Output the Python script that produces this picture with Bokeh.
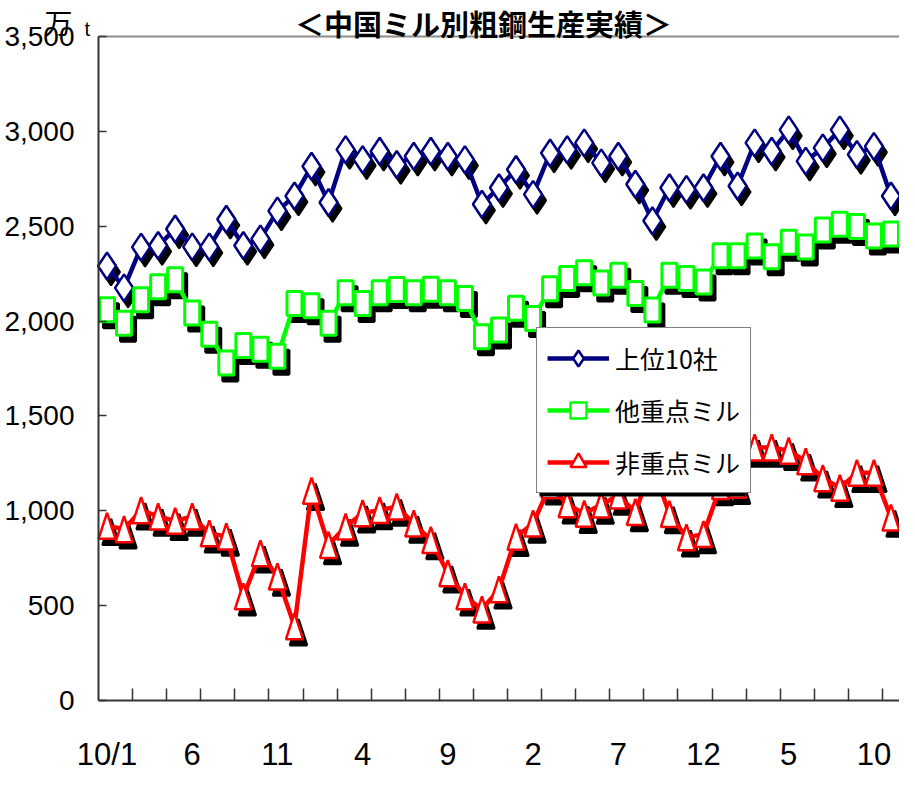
from bokeh.plotting import figure
from bokeh.models import (FixedTicker, NumeralTickFormatter, Label, Legend, LegendItem,
                          ColumnDataSource, Range1d, BoxAnnotation)
from bokeh.embed import file_html
from bokeh.resources import INLINE

# ---------------- data (万t, monthly from 2010/1) ----------------
tick_positions = [0, 5, 10, 15, 20, 25, 30, 35, 40, 45]
tick_labels = ["10/1", "6", "11", "4", "9", "2", "7", "12", "5", "10"]
series_names = ["上位10社", "他重点ミル", "非重点ミル"]

top10 = [2290, 2175, 2390, 2398, 2485, 2391, 2391, 2537, 2398, 2433,
         2581, 2659, 2816, 2625, 2904, 2851, 2895, 2825, 2869, 2895,
         2869, 2851, 2616, 2703, 2799, 2668, 2886, 2904, 2939, 2834,
         2869, 2721, 2529, 2703, 2694, 2703, 2869, 2712, 2939, 2895,
         3008, 2843, 2913, 3008, 2878, 2921, 2659]
other_key = [2060, 1988, 2112, 2181, 2218, 2043, 1931, 1779, 1871, 1852,
             1814, 2093, 2081, 1988, 2149, 2093, 2149, 2166, 2149, 2168,
             2149, 2119, 1918, 1953, 2067, 2014, 2171, 2224, 2255, 2201,
             2241, 2145, 2058, 2241, 2224, 2206, 2344, 2344, 2396, 2339,
             2415, 2391, 2480, 2511, 2498, 2449, 2459]
non_key = [921, 903, 1003, 970, 947, 970, 881, 865, 549, 776,
           654, 392, 1106, 820, 917, 987, 1004, 1022, 933, 846,
           671, 549, 480, 586, 863, 933, 1135, 1035, 985, 1033,
           1080, 994, 1240, 983, 860, 877, 1130, 1137, 1334, 1334,
           1317, 1261, 1172, 1121, 1200, 1200, 964]

# ---------------- geometry (figure pixels) ----------------
W, H = 899, 772
n = len(top10)
YMAX = 3500
X0 = 98            # x of the value axis (category -0.5)
YT = 36            # y of the 3,500 line
Y0 = 700           # y of the 0 line
pxx = (W - X0) / n
pxy = (Y0 - YT) / YMAX

def dx(fx):
    return -0.5 + (fx - X0) / pxx

def dy(fy):
    return (Y0 - fy) / pxy

xs = list(range(n))
SHX, SHY = 4 / pxx, 6 / pxy                # marker shadow offset

NUM_FONT = "'Liberation Sans Narrow', 'Arial Narrow', 'Liberation Sans', sans-serif"
CJK_FONT = "Noto Sans CJK JP"

# the frame covers the whole canvas; axes are pinned at category -0.5 and value 0
p = figure(width=W, height=H, output_backend="svg", toolbar_location=None,
           x_range=Range1d(dx(0), dx(W)), y_range=Range1d(dy(H), dy(0)),
           min_border_left=0, min_border_right=0, min_border_top=0,
           min_border_bottom=0)
p.outline_line_color = None
p.xgrid.visible = False
p.ygrid.visible = False
p.background_fill_color = "white"

p.xaxis.fixed_location = 0
p.xaxis.bounds = (-0.5, n - 0.5)
p.xaxis.ticker = FixedTicker(ticks=tick_positions,
                             minor_ticks=[i + 1.5 for i in range(0, n - 1, 2)])
p.xaxis.major_label_overrides = {t: l for t, l in zip(tick_positions, tick_labels)}
p.xaxis.major_tick_in = 0
p.xaxis.major_tick_out = 0
p.xaxis.minor_tick_in = 12
p.xaxis.minor_tick_out = 0
p.xaxis.major_label_standoff = 36
p.yaxis.fixed_location = -0.5
p.yaxis.bounds = (0, YMAX)
p.yaxis.ticker = FixedTicker(ticks=list(range(0, YMAX + 1, 500)))
p.yaxis.formatter = NumeralTickFormatter(format="0,0")
p.yaxis.major_tick_in = 8
p.yaxis.major_tick_out = 0
p.yaxis.minor_tick_line_color = None
p.yaxis.major_label_standoff = 24
for ax in (p.xaxis, p.yaxis):
    ax.axis_line_color = "#333333"
    ax.axis_line_width = 2
    ax.major_tick_line_color = "#333333"
    ax.major_tick_line_width = 1.5
    ax.minor_tick_line_width = 1.5
    ax.major_label_text_font = NUM_FONT
    ax.major_label_text_color = "black"
p.xaxis.minor_tick_line_color = "#333333"
p.xaxis.major_label_text_font_size = "31px"
p.yaxis.major_label_text_font_size = "28px"

# top border of the plot area
p.segment(x0=[-0.5], y0=[YMAX], x1=[n - 0.5], y1=[YMAX],
          line_color="#8c8c8c", line_width=2)

# ---------------- series ----------------
src = ColumnDataSource(dict(x=xs, top10=top10, other=other_key, non=non_key,
                            xs_sh=[v + SHX for v in xs],
                            top10_sh=[v - SHY for v in top10],
                            other_sh=[v - SHY for v in other_key]))

TW, TH = 8.5 / pxx, 13 / pxy               # triangle half width / half height

def tri(y_off, x_off):
    return ([[i + x_off - TW, i + x_off + TW, i + x_off] for i in xs],
            [[v - y_off - TH, v - y_off - TH, v - y_off + TH] for v in non_key])

tx, ty = tri(0, 0)
tsx, tsy = tri(SHY, SHX)

NAVY, GREEN, RED = "#000080", "#00ff00", "#ff0000"

# marker shadows
p.scatter("xs_sh", "top10_sh", source=src, marker="diamond", size=27,
          fill_color="black", line_color="black", line_width=2)
p.rect("xs_sh", "other_sh", source=src, width=15, height=24, width_units="screen",
       height_units="screen", fill_color="black", line_color="black", line_width=3)
p.patches(tsx, tsy, fill_color="black", line_color="black", line_width=2.5)

# lines
l1 = p.line("x", "top10", source=src, line_color=NAVY, line_width=4.5)
l2 = p.line("x", "other", source=src, line_color=GREEN, line_width=4.5)
l3 = p.line("x", "non", source=src, line_color=RED, line_width=4.5)

# markers
m1 = p.scatter("x", "top10", source=src, marker="diamond", size=27,
               fill_color="white", line_color=NAVY, line_width=2.5)
p.rect("x", "other", source=src, width=15, height=24, width_units="screen",
       height_units="screen", fill_color="white", line_color=GREEN, line_width=3)
p.patches(tx, ty, fill_color="white", line_color=RED, line_width=2.5)

# legend-only marker proxies (one point placed outside the visible range)
proxy = ColumnDataSource(dict(x=[n + 10], y=[-YMAX]))
lm2 = p.scatter("x", "y", source=proxy, marker="square", size=20,
                fill_color="white", line_color=GREEN, line_width=2.5)
lm3 = p.scatter("x", "y", source=proxy, marker="triangle", size=26,
                fill_color="white", line_color=RED, line_width=2.5)

# legend shadow + legend
LGL, LGT, LGW, LGH = 536, 333, 206, 160
p.add_layout(BoxAnnotation(left=dx(LGL + 3), right=dx(LGL + LGW + 3),
                           top=dy(LGT + 3), bottom=dy(LGT + LGH + 3),
                           fill_color="black", fill_alpha=1, line_color=None))

legend = Legend(items=[LegendItem(label=series_names[0], renderers=[l1, m1]),
                       LegendItem(label=series_names[1], renderers=[l2, lm2]),
                       LegendItem(label=series_names[2], renderers=[l3, lm3])],
                location=(LGL, H - (LGT + LGH)),
                label_text_font=CJK_FONT, label_text_font_size="25px",
                label_text_color="black", glyph_width=62, glyph_height=40,
                label_height=40, spacing=12, padding=10, margin=0,
                label_standoff=6, border_line_color="black", border_line_width=1,
                background_fill_color="white", background_fill_alpha=1)
p.add_layout(legend, "center")

# title and unit (inside the canvas area above the 3,500 line)
p.add_layout(Label(x=dx(483), y=dy(22), text="＜中国ミル別粗鋼生産実績＞",
                   text_font=CJK_FONT, text_font_size="29px", text_font_style="bold",
                   text_align="center", text_baseline="middle", text_color="black"))
p.add_layout(Label(x=dx(44), y=dy(21), text="万", text_font=CJK_FONT,
                   text_font_size="28px", text_align="left",
                   text_baseline="middle", text_color="black"))
p.add_layout(Label(x=dx(84), y=dy(28), text="t", text_font=NUM_FONT,
                   text_font_size="20px", text_align="left",
                   text_baseline="middle", text_color="black"))

open("out.html", "w").write(file_html(p, INLINE))
